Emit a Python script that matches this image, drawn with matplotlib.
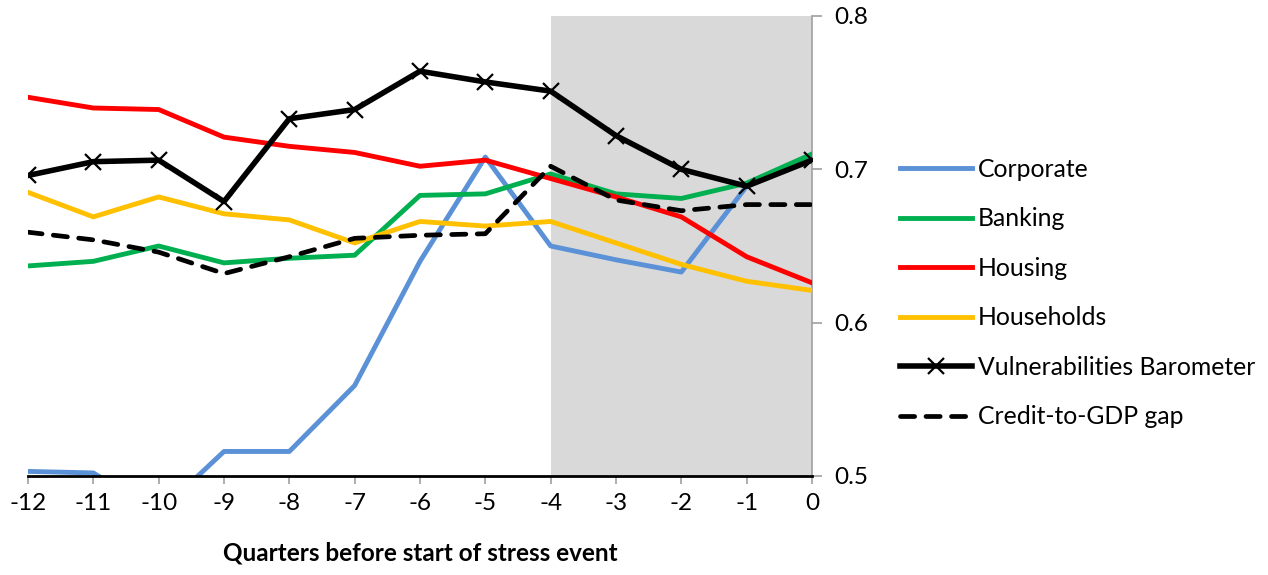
import matplotlib
matplotlib.use("Agg")
import matplotlib.pyplot as plt

quarters = [-12, -11, -10, -9, -8, -7, -6, -5, -4, -3, -2, -1, 0]
tick_labels = ["-12", "-11", "-10", "-9", "-8", "-7", "-6", "-5", "-4", "-3", "-2", "-1", "0"]

corporate = [0.503, 0.502, 0.476, 0.516, 0.516, 0.559, 0.640, 0.708, 0.650, 0.641, 0.633, 0.689, 0.707]
banking = [0.637, 0.640, 0.650, 0.639, 0.642, 0.644, 0.683, 0.684, 0.697, 0.684, 0.681, 0.691, 0.710]
housing = [0.747, 0.740, 0.739, 0.721, 0.715, 0.711, 0.702, 0.706, 0.694, 0.682, 0.669, 0.643, 0.626]
households = [0.685, 0.669, 0.682, 0.671, 0.667, 0.652, 0.666, 0.663, 0.666, 0.652, 0.638, 0.627, 0.621]
barometer = [0.696, 0.705, 0.706, 0.679, 0.733, 0.739, 0.764, 0.757, 0.751, 0.722, 0.700, 0.689, 0.706]
credit_gap = [0.659, 0.654, 0.646, 0.632, 0.643, 0.655, 0.657, 0.658, 0.702, 0.680, 0.673, 0.677, 0.677]

y_ticks = [0.5, 0.6, 0.7, 0.8]
y_tick_labels = ["0.5", "0.6", "0.7", "0.8"]
shade_range = (-4, 0)

plt.rcParams['font.family'] = ['Lato', 'DejaVu Sans']

fig = plt.figure(figsize=(12.68, 5.75), dpi=100)
ax = fig.add_axes([28/1268, 99/575, 784/1268, 460/575])

ax.axvspan(shade_range[0], shade_range[1], color="#d9d9d9", zorder=0, lw=0)

ax.plot(quarters, corporate, color="#5B91D6", lw=3.5, label="Corporate", zorder=3)
ax.plot(quarters, banking, color="#00B050", lw=3.5, label="Banking", zorder=3)
ax.plot(quarters, housing, color="#FF0000", lw=3.5, label="Housing", zorder=3)
ax.plot(quarters, households, color="#FFC000", lw=3.5, label="Households", zorder=3)
ax.plot(quarters, barometer, color="black", lw=4.0, marker="x", markersize=11,
        markeredgewidth=1.6, label="Vulnerabilities Barometer", zorder=4)
ax.plot(quarters, credit_gap, color="black", lw=3.4, dashes=(3.0, 2.4), dash_capstyle="round",
        label="Credit-to-GDP gap", zorder=4)

ax.set_xlim(-12, 0)
ax.set_ylim(0.5, 0.8)
ax.set_xticks(quarters)
ax.set_xticklabels(tick_labels)
ax.yaxis.tick_right()
ax.set_yticks(y_ticks)
ax.set_yticklabels(y_tick_labels)

for s in ["top", "left"]:
    ax.spines[s].set_visible(False)
ax.spines["right"].set_color("#a0a0a0")
ax.spines["right"].set_linewidth(1.2)
ax.spines["bottom"].set_color("black")
ax.spines["bottom"].set_linewidth(2)
ax.spines["bottom"].set_zorder(5)

ax.tick_params(axis="x", colors="#a0a0a0", labelcolor="black", length=6, width=1.2,
               labelsize=17.5, pad=6)
ax.tick_params(axis="y", colors="#a0a0a0", labelcolor="black", length=7, width=1.2,
               labelsize=17.5, pad=9)

ax.set_xlabel("Quarters before start of stress event", fontsize=17.5, fontweight="bold",
              labelpad=20)

leg = fig.legend(loc="upper left", bbox_to_anchor=(900/1268, 1 - 158/575), frameon=False,
                 fontsize=17.8, handlelength=2.9, handletextpad=0.25, labelspacing=1.07,
                 borderaxespad=0, borderpad=0)

fig.savefig("out.png", dpi=100)
